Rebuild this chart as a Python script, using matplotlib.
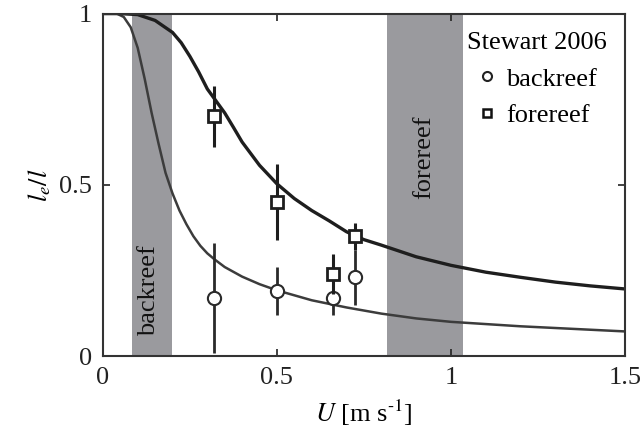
import matplotlib
matplotlib.use("Agg")
import matplotlib.pyplot as plt
from matplotlib.lines import Line2D

plt.rcParams['font.family'] = ['Liberation Serif', 'DejaVu Serif']
plt.rcParams['mathtext.fontset'] = 'stix'

# model curves
u_fore = [0, 0.05, 0.10, 0.15, 0.20, 0.225, 0.25, 0.275, 0.30, 0.325, 0.35, 0.375,
          0.40, 0.45, 0.50, 0.55, 0.60, 0.65, 0.70, 0.75, 0.80, 0.90, 1.00, 1.10,
          1.20, 1.30, 1.40, 1.50]
r_fore = [1.0, 1.0, 0.997, 0.98, 0.945, 0.915, 0.875, 0.83, 0.78, 0.745, 0.71, 0.668,
          0.625, 0.557, 0.503, 0.46, 0.425, 0.395, 0.363, 0.34, 0.324, 0.29, 0.265, 0.245,
          0.23, 0.216, 0.205, 0.196]

u_back = [0, 0.04, 0.06, 0.08, 0.10, 0.12, 0.14, 0.16, 0.18, 0.20, 0.22, 0.24,
          0.26, 0.28, 0.30, 0.32, 0.35, 0.40, 0.45, 0.50, 0.60, 0.70, 0.80, 0.90,
          1.00, 1.20, 1.40, 1.50]
r_back = [1.0, 1.0, 0.99, 0.96, 0.90, 0.81, 0.71, 0.62, 0.535, 0.475, 0.425, 0.385,
          0.35, 0.322, 0.30, 0.283, 0.26, 0.232, 0.21, 0.192, 0.163, 0.142, 0.124, 0.11,
          0.10, 0.087, 0.077, 0.072]

# Stewart 2006 observations
u_obs_back = [0.32, 0.50, 0.66, 0.724]
r_obs_back = [0.17, 0.19, 0.17, 0.23]
e_obs_back = [0.16, 0.07, 0.05, 0.08]

u_obs_fore = [0.32, 0.50, 0.66, 0.724]
r_obs_fore = [0.70, 0.45, 0.24, 0.35]
e_obs_fore = [0.09, 0.11, 0.058, 0.04]

# shaded velocity ranges
band_back = (0.083, 0.198)
band_fore = (0.816, 1.034)

FS = 19
band_col = '#9a9a9e'
dark = '#1e1e1e'

fig = plt.figure(figsize=(6.43, 4.38), dpi=100)
ax = fig.add_axes([0.160, 0.187, 0.812, 0.782])

ax.axvspan(*band_back, color=band_col, lw=0, zorder=0)
ax.axvspan(*band_fore, color=band_col, lw=0, zorder=0)
ax.text(0.133, 0.19, 'backreef', rotation=90, ha='center', va='center',
        fontsize=FS, color='#111111', zorder=1)
ax.text(0.922, 0.58, 'forereef', rotation=90, ha='center', va='center',
        fontsize=FS, color='#111111', zorder=1)

ax.plot(u_back, r_back, color='#3c3c3c', lw=1.8, zorder=2)
ax.plot(u_fore, r_fore, color=dark, lw=2.4, zorder=2)

ax.errorbar(u_obs_back, r_obs_back, yerr=e_obs_back, fmt='o', ms=9.5, mfc='white',
            mec='#2a2a2a', mew=1.5, ecolor='#2a2a2a', elinewidth=2.0, capsize=0, zorder=3)
ax.errorbar(u_obs_fore, r_obs_fore, yerr=e_obs_fore, fmt='s', ms=8, mfc='white',
            mec=dark, mew=2.0, ecolor=dark, elinewidth=2.2, capsize=0, zorder=4)

ax.set_xlim(0, 1.5)
ax.set_ylim(0, 1)
ax.set_xticks([0, 0.5, 1, 1.5])
ax.set_xticklabels(['0', '0.5', '1', '1.5'])
ax.set_yticks([0, 0.5, 1])
ax.set_yticklabels(['0', '0.5', '1'])
ax.tick_params(direction='in', top=True, right=True, length=5, width=1.2,
               labelsize=FS, pad=8, colors='#222222')
for s in ax.spines.values():
    s.set_linewidth(1.5)
    s.set_color('#333333')

ax.set_xlabel(r'$U$ [m s$^{\text{-1}}$]', fontsize=FS, labelpad=6)
ax.set_ylabel(r'$l_e/l$', fontsize=FS, labelpad=4)

handles = [Line2D([], [], ls='none', marker='o', ms=6.5, mfc='white', mec='#222222', mew=1.5),
           Line2D([], [], ls='none', marker='s', ms=6, mfc='white', mec='#111111', mew=1.8)]
leg = ax.legend(handles, ['backreef', 'forereef'], title='Stewart 2006', loc='upper right',
                bbox_to_anchor=(1.0, 1.0), frameon=False, fontsize=FS, title_fontsize=FS,
                handlelength=0.8, handletextpad=0.35, labelspacing=0.5, borderpad=0.2)

fig.savefig('out.png', dpi=100)
